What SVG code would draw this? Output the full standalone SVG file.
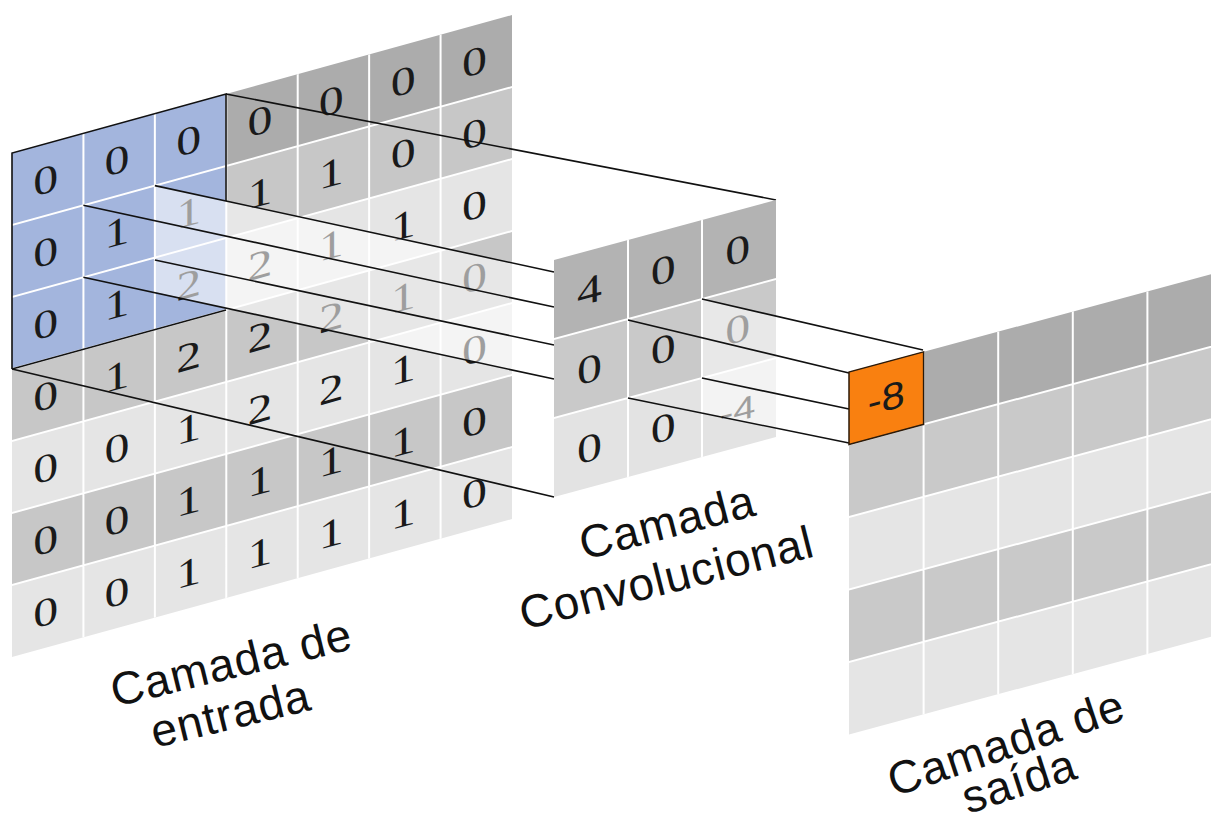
<svg xmlns="http://www.w3.org/2000/svg" width="1211" height="825" viewBox="0 0 1211 825">
<style>
.g0{fill:#acacac}.g1{fill:#c7c7c7}.g2{fill:#e5e5e5}.blue{fill:#a3b5dd}
.grid{stroke:#fff;stroke-width:2;fill:none}
.dg{font-family:"Liberation Serif","Times New Roman",serif;font-size:40px;fill:#1a1a1a;text-anchor:middle}
.ds{font-family:"Liberation Sans",Arial,sans-serif;font-size:32px;fill:#1a1a1a;text-anchor:middle}
.big{font-size:38px}
.ln{stroke:#111;stroke-width:1.6;fill:none}
.veil{fill:#fff;fill-opacity:0.58}
.lbl{font-family:"Liberation Sans",Arial,sans-serif;font-size:46px;fill:#111;letter-spacing:1px}
</style>
<rect width="1211" height="825" fill="#fff"/>

<!-- input layer: 7x7 grid on a sheared plane -->
<g id="input-layer">
  <g transform="matrix(1,-0.2759,0,1,12,153)">
    <rect class="g0" x="0" y="0" width="500" height="72"/>
    <rect class="g1" x="0" y="72" width="500" height="72"/>
    <rect class="g2" x="0" y="144" width="500" height="72"/>
    <rect class="g1" x="0" y="216" width="500" height="72"/>
    <rect class="g2" x="0" y="288" width="500" height="72"/>
    <rect class="g1" x="0" y="360" width="500" height="72"/>
    <rect class="g2" x="0" y="432" width="500" height="72"/>
    <rect class="blue" x="0" y="0" width="214.29" height="216"/>
    <path class="grid" d="M71.43 0V504M142.86 0V504M214.29 0V504M285.71 0V504M357.14 0V504M428.57 0V504M0 72H500M0 144H500M0 216H500M0 288H500M0 360H500M0 432H500"/>
    <g transform="scale(1.25,1)" class="dg">
      <text x="27" y="49.5">0</text><text x="84" y="49.5">0</text><text x="141.5" y="49.5">0</text><text x="198.5" y="49.5">0</text><text x="255.5" y="49.5">0</text><text x="313" y="49.5">0</text><text x="370" y="49.5">0</text>
      <text x="27" y="121.5">0</text><text x="84" y="121.5">1</text><text x="141.5" y="121.5">1</text><text x="198.5" y="121.5">1</text><text x="255.5" y="121.5">1</text><text x="313" y="121.5">0</text><text x="370" y="121.5">0</text>
      <text x="27" y="193.5">0</text><text x="84" y="193.5">1</text><text x="141.5" y="193.5">2</text><text x="198.5" y="193.5">2</text><text x="255.5" y="193.5">1</text><text x="313" y="193.5">1</text><text x="370" y="193.5">0</text>
      <text x="27" y="265.5">0</text><text x="84" y="265.5">1</text><text x="141.5" y="265.5">2</text><text x="198.5" y="265.5">2</text><text x="255.5" y="265.5">2</text><text x="313" y="265.5">1</text><text x="370" y="265.5">0</text>
      <text x="27" y="337.5">0</text><text x="84" y="337.5">0</text><text x="141.5" y="337.5">1</text><text x="198.5" y="337.5">2</text><text x="255.5" y="337.5">2</text><text x="313" y="337.5">1</text><text x="370" y="337.5">0</text>
      <text x="27" y="409.5">0</text><text x="84" y="409.5">0</text><text x="141.5" y="409.5">1</text><text x="198.5" y="409.5">1</text><text x="255.5" y="409.5">1</text><text x="313" y="409.5">1</text><text x="370" y="409.5">0</text>
      <text x="27" y="481.5">0</text><text x="84" y="481.5">0</text><text x="141.5" y="481.5">1</text><text x="198.5" y="481.5">1</text><text x="255.5" y="481.5">1</text><text x="313" y="481.5">1</text><text x="370" y="481.5">0</text>
    </g>
  </g>
  <!-- translucent beam leaving the receptive field -->
  <polygon class="veil" points="154.9,185.6 554,272 554,379 226,308.5 154.9,292"/>
</g>

<!-- projection lines: receptive field to kernel -->
<g id="connectors-input">
  <path class="ln" d="M226,94 L776,200"/>
  <path class="ln" d="M154.9,185.6 L554,272"/>
  <path class="ln" d="M83.4,205.3 L554,307"/>
  <path class="ln" d="M154.9,260 L554,345"/>
  <path class="ln" d="M83.4,277.3 L554,379"/>
  <path class="ln" d="M12,369 L554,497"/>
  <path class="ln" d="M12,369 L12,153 L226,94 L226,201 M12,369 L226,310"/>
</g>

<!-- convolution layer: 3x3 -->
<g id="conv-layer">
  <g transform="matrix(1,-0.27,0,1,554,260)">
    <rect fill="#b3b3b3" x="0" y="0" width="222" height="79"/>
    <rect fill="#c9c9c9" x="0" y="79" width="222" height="79"/>
    <rect fill="#e3e3e3" x="0" y="158" width="222" height="79"/>
    <path class="grid" d="M74 0V237M148 0V237M0 79H222M0 158H222"/>
    <g transform="scale(1.25,1)">
      <g class="dg">
        <text x="28.5" y="53">4</text><text x="87.5" y="53">0</text><text x="147" y="53">0</text>
        <text x="28.5" y="132">0</text><text x="87.5" y="132">0</text><text x="147" y="132">0</text>
        <text x="28.5" y="211">0</text><text x="87.5" y="211">0</text>
      </g>
      <text class="ds" x="147" y="211">-4</text>
    </g>
  </g>
  <polygon class="veil" points="702,299 776,316 776,428 702,412"/>
</g>

<!-- projection lines: kernel to output cell -->
<g id="connectors-output">
  <path class="ln" d="M702,299 L923,350"/>
  <path class="ln" d="M628,320 L849,373"/>
  <path class="ln" d="M702,378 L849,409"/>
  <path class="ln" d="M628,398 L849,443"/>
</g>

<!-- output layer: 5x5 -->
<g id="output-layer">
  <g transform="matrix(1,-0.27,0,1,849,372)">
    <rect class="g0" x="0" y="0" width="373" height="72.5"/>
    <rect fill="#c9c9c9" x="0" y="72.5" width="373" height="72.5"/>
    <rect class="g2" x="0" y="145" width="373" height="72.5"/>
    <rect fill="#c9c9c9" x="0" y="217.5" width="373" height="72.5"/>
    <rect class="g2" x="0" y="290" width="373" height="72.5"/>
    <path class="grid" d="M74.6 0V362.5M149.2 0V362.5M223.8 0V362.5M298.4 0V362.5M0 72.5H373M0 145H373M0 217.5H373M0 290H373"/>
    <g id="out-cell">
      <rect x="0" y="0" width="74.6" height="72.5" fill="#f98010" stroke="#2b1a0a" stroke-width="1.5"/>
      <text class="ds big" transform="scale(1.1,1)" x="33.9" y="49">-8</text>
    </g>
  </g>
</g>

<!-- captions -->
<g id="captions">
  <text class="lbl" transform="translate(115,707) rotate(-13.7)">Camada de</text>
  <text class="lbl" transform="translate(155,748) rotate(-13.7)">entrada</text>
  <text class="lbl" transform="translate(584,560) rotate(-14.5)">Camada</text>
  <text class="lbl" transform="translate(524,630) rotate(-14.2)">Convolucional</text>
  <text class="lbl" transform="translate(894,797) rotate(-18.5)">Camada de</text>
  <text class="lbl" transform="translate(968,814) rotate(-18)">saída</text>
</g>
</svg>
